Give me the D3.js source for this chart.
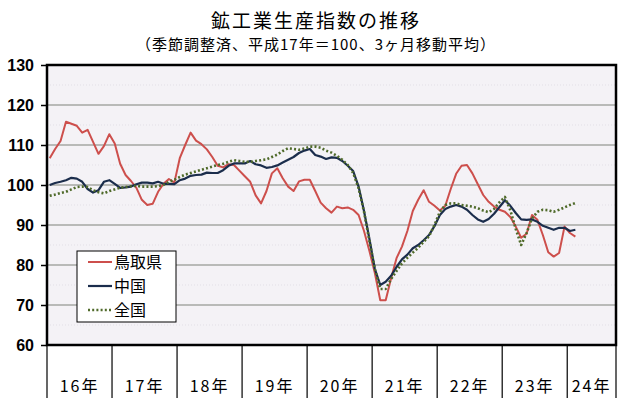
<!DOCTYPE html>
<html>
<head>
<meta charset="utf-8">
<script src="https://cdn.jsdelivr.net/npm/d3@7"></script>
<style>
  body { margin: 0; background: #fff; }
  .axis text { font-family: "Liberation Sans", Arial, sans-serif; font-size: 16px; font-weight: bold; fill: #000; }
  .title { font-family: "Noto Sans CJK JP", sans-serif; fill: #000; }
</style>
</head>
<body>
<div id="chart"></div>
<script>
// 年ラベルと各年の月数（24年は9か月分の枠）
const years = ["16年", "17年", "18年", "19年", "20年", "21年", "22年", "23年", "24年"];
const yearMonths = [12, 12, 12, 12, 12, 12, 12, 12, 9];

// 鳥取県 (16年1月〜24年2月)
const tottori = [
    106.7, 109.0, 111.0, 115.8, 115.3, 114.8, 113.1, 113.8, 110.8, 107.8, 109.7, 112.7,
    110.4, 105.3, 102.5, 101.0, 99.3, 96.3, 95.0, 95.3, 98.3, 100.3, 101.5, 100.6,
    106.7, 110.0, 113.1, 111.1, 110.2, 108.9, 107.0, 104.8, 104.4, 105.2, 105.0, 103.6,
    102.2, 100.8, 97.4, 95.4, 98.5, 102.9, 104.2, 101.7, 99.6, 98.5, 100.9, 101.3,
    101.3, 98.5, 95.6, 94.2, 93.1, 94.6, 94.2, 94.4, 93.8, 92.5, 88.5, 83.5,
    78.0, 71.2, 71.2, 76.7, 81.7, 84.6, 88.5, 93.5, 96.3, 98.7, 95.8, 94.8,
    93.6, 94.8, 99.0, 102.8, 104.8, 105.0, 102.9, 100.2, 97.5, 95.8, 94.6, 93.8,
    93.3, 92.0, 89.6, 86.8, 87.8, 92.5, 91.3, 87.5, 83.2, 82.1, 83.0, 89.6,
    88.0, 87.1
];

// 中国
const chugoku = [
    100.0, 100.5, 100.8, 101.2, 101.8, 101.6, 100.8, 99.0, 98.1, 98.7, 100.8, 101.2,
    100.3, 99.3, 99.4, 99.6, 100.2, 100.6, 100.6, 100.4, 100.8, 100.3, 100.3, 100.2,
    101.2, 101.6, 102.3, 102.5, 102.6, 103.1, 103.0, 103.0, 103.7, 104.8, 105.4, 105.4,
    105.4, 106.0, 105.2, 104.9, 104.3, 104.5, 104.9, 105.6, 106.3, 107.0, 108.0, 108.6,
    109.0, 107.5, 107.1, 106.5, 106.9, 106.8, 106.0, 104.8, 103.5, 99.6, 93.5, 86.5,
    79.0, 75.0, 75.8, 77.3, 79.5, 81.4, 82.6, 84.2, 85.0, 86.2, 87.5, 89.7,
    92.5, 94.0, 94.6, 95.0, 94.6, 93.8, 92.5, 91.4, 90.8, 91.5, 92.8, 94.5,
    96.2, 94.8, 93.0, 91.4, 91.3, 91.4, 90.8, 89.8, 89.3, 88.8, 89.3, 89.3,
    88.5, 88.8
];

// 全国
const zenkoku = [
    97.3, 97.6, 98.0, 98.3, 98.9, 99.5, 99.6, 99.5, 98.7, 98.2, 97.9, 98.5,
    98.9, 99.3, 99.5, 99.7, 99.8, 99.6, 99.6, 99.6, 99.7, 100.0, 100.8, 101.3,
    102.0, 102.6, 103.0, 103.4, 103.8, 104.2, 104.6, 105.0, 105.3, 105.8, 106.2, 106.0,
    105.8, 105.8, 106.0, 106.2, 106.4, 107.0, 107.6, 108.5, 109.2, 109.0, 108.8, 109.1,
    109.6, 109.6, 109.3, 108.6, 108.1, 107.3, 106.3, 105.0, 103.0, 99.2, 93.3, 86.0,
    79.0, 74.0, 74.0, 76.5, 78.5, 80.4, 81.8, 83.1, 84.3, 85.8, 87.2, 90.0,
    93.3, 95.0, 95.4, 95.4, 95.0, 94.8, 94.6, 94.2, 93.6, 93.2, 94.0, 95.7,
    97.0, 93.7, 89.0, 85.0, 88.0, 91.6, 93.3, 93.8, 93.7, 93.3, 93.8, 94.4,
    95.0, 95.5
];

const yTicks = [60, 70, 80, 90, 100, 110, 120, 130];

const series = [
    {name: "鳥取県", values: tottori, color: "#cd4f4c", dash: null, width: 2},
    {name: "中国", values: chugoku, color: "#1b2d4c", dash: null, width: 2.2},
    {name: "全国", values: zenkoku, color: "#4f6a2a", dash: "2,2.2", width: 2.6}
];

const width = 630, height = 410;
const margin = {top: 65, right: 14, bottom: 65, left: 47};
const plotW = width - margin.left - margin.right;
const plotH = height - margin.top - margin.bottom;

const svg = d3.select("#chart").append("svg")
    .attr("width", width)
    .attr("height", height);

// タイトル
svg.append("text")
    .attr("class", "title")
    .attr("x", 316).attr("y", 28)
    .attr("text-anchor", "middle")
    .style("font-size", "19px")
    .style("letter-spacing", "2px")
    .text("鉱工業生産指数の推移");

svg.append("text")
    .attr("class", "title")
    .attr("x", 316).attr("y", 50)
    .attr("text-anchor", "middle")
    .style("font-size", "15px")
    .style("letter-spacing", "1px")
    .text("（季節調整済、平成17年＝100、3ヶ月移動平均）");

const totalMonths = d3.sum(yearMonths);

const x = d3.scaleLinear()
    .domain([0, totalMonths])
    .range([margin.left, margin.left + plotW]);

const y = d3.scaleLinear()
    .domain([60, 130])
    .range([margin.top + plotH, margin.top]);

// 描画領域の背景
svg.append("rect")
    .attr("x", margin.left).attr("y", margin.top)
    .attr("width", plotW).attr("height", plotH)
    .attr("fill", "#f4f2f6");

// 補助目盛り線（5刻み）
svg.append("g")
    .selectAll("line")
    .data(d3.range(65, 130, 10))
    .join("line")
    .attr("x1", margin.left).attr("x2", margin.left + plotW)
    .attr("y1", d => y(d)).attr("y2", d => y(d))
    .attr("stroke", "#e2dfe6")
    .attr("stroke-dasharray", "1,2");

// 目盛り線
svg.append("g")
    .selectAll("line")
    .data(yTicks.slice(1, -1))
    .join("line")
    .attr("x1", margin.left).attr("x2", margin.left + plotW)
    .attr("y1", d => y(d)).attr("y2", d => y(d))
    .attr("stroke", "#7f827a")
    .attr("stroke-width", 1.2);

// 系列
const line = d3.line()
    .x((d, i) => x(i + 0.5))
    .y(d => y(d));

series.forEach(s => {
    svg.append("path")
        .datum(s.values)
        .attr("fill", "none")
        .attr("stroke", s.color)
        .attr("stroke-width", s.width)
        .attr("stroke-dasharray", s.dash)
        .attr("stroke-linejoin", "round")
        .attr("d", line);
});

// 枠線
svg.append("rect")
    .attr("x", margin.left).attr("y", margin.top)
    .attr("width", plotW).attr("height", plotH)
    .attr("fill", "none")
    .attr("stroke", "#000")
    .attr("stroke-width", 2.5);

// Y軸
const yAxis = svg.append("g")
    .attr("class", "axis")
    .attr("transform", `translate(${margin.left},0)`)
    .call(d3.axisLeft(y).tickValues(yTicks).tickSize(6).tickPadding(7));
yAxis.select(".domain").remove();
yAxis.selectAll(".tick line").attr("stroke", "#000").attr("stroke-width", 1.5);

// X軸（年の区切り）
let cum = [0];
yearMonths.forEach(m => cum.push(cum[cum.length - 1] + m));

svg.append("g")
    .selectAll("line")
    .data(cum)
    .join("line")
    .attr("x1", d => x(d)).attr("x2", d => x(d))
    .attr("y1", margin.top + plotH).attr("y2", margin.top + plotH + 53)
    .attr("stroke", "#000")
    .attr("stroke-width", 1.2);

svg.append("g")
    .attr("class", "axis")
    .selectAll("text")
    .data(years)
    .join("text")
    .attr("x", (d, i) => (x(cum[i]) + x(cum[i + 1])) / 2)
    .attr("y", margin.top + plotH + 47)
    .attr("text-anchor", "middle")
    .style("font-family", "'Noto Sans CJK JP', sans-serif")
    .style("font-size", "16px")
    .style("letter-spacing", "2px")
    .style("font-weight", "normal")
    .text(d => d);

// 凡例
const legend = svg.append("g").attr("transform", "translate(77,251)");
legend.append("rect")
    .attr("width", 99).attr("height", 71)
    .attr("fill", "#fff")
    .attr("stroke", "#000")
    .attr("stroke-width", 1);

series.forEach((s, i) => {
    const ly = 11 + i * 24;
    legend.append("line")
        .attr("x1", 11).attr("x2", 35)
        .attr("y1", ly).attr("y2", ly)
        .attr("stroke", s.color)
        .attr("stroke-width", s.width)
        .attr("stroke-dasharray", s.dash);
    legend.append("text")
        .attr("x", 37).attr("y", ly + 6)
        .style("font-family", "'Noto Sans CJK JP', sans-serif")
        .style("font-size", "16px")
        .text(s.name);
});
</script>
</body>
</html>
